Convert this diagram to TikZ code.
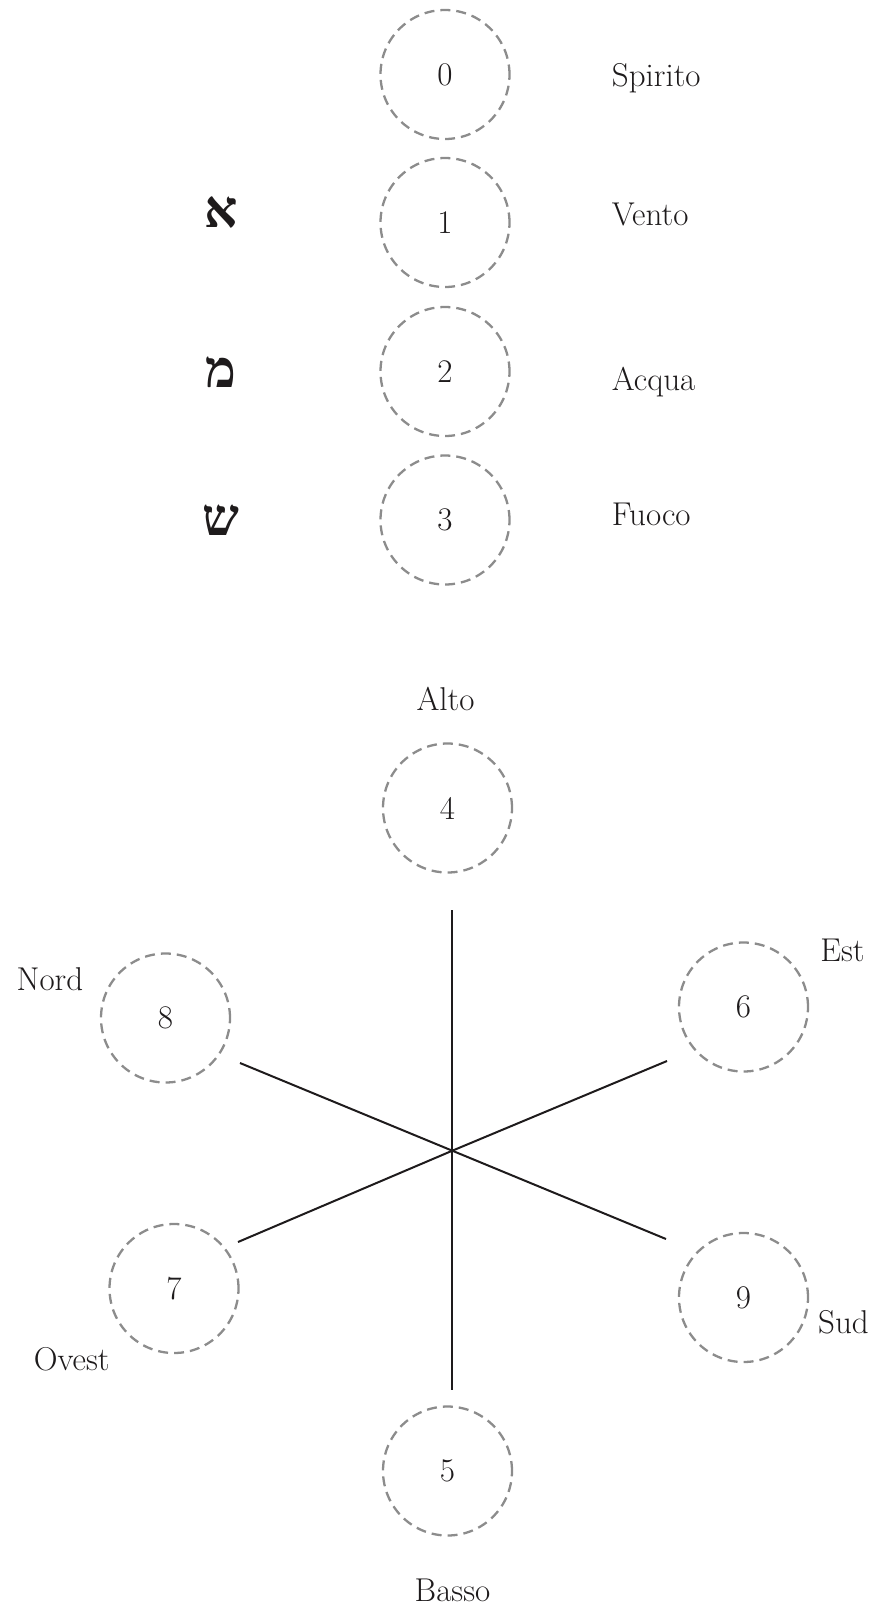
\documentclass[tikz,border=0pt]{standalone}
\usepackage{fontspec}
\newfontfamily\hebfont[Script=Hebrew]{Liberation Serif}
\TeXXeTstate=1
\begin{document}
\begin{tikzpicture}[x=1pt,y=-1pt,
  ring/.style={circle,draw=ringgray,line width=2.3pt,dash pattern=on 10pt off 6pt,
    minimum size=129pt,inner sep=0pt,font=\fontsize{33}{40}\selectfont,text=txt},
  lbl/.style={inner sep=0pt,font=\fontsize{33}{40}\selectfont,text=txt},
  heb/.style={inner sep=0pt,font=\hebfont\bfseries\fontsize{52}{60}\selectfont,text=txt},
  spoke/.style={draw=txt,line width=2pt}]
\definecolor{ringgray}{RGB}{140,140,140}
\definecolor{txt}{RGB}{30,27,28}
\useasboundingbox (0,0) rectangle (875,1609);
% top column
\node[ring] (n0) at (445,74.5) {0};
\node[ring] (n1) at (445,222.5) {1};
\node[ring] (n2) at (445,371.5) {2};
\node[ring] (n3) at (445,520) {3};
\node[lbl,anchor=base west] (spirito) at (611.7,86.7) {Spirito};
\node[lbl,anchor=base west] (vento) at (611.7,225) {Vento};
\node[lbl,anchor=base west] (acqua) at (611.7,390) {Acqua};
\node[lbl,anchor=base west] (fuoco) at (611.7,525) {Fuoco};
\node[heb] (aleph) at (221.5,212.5) {\beginR א\endR};
\node[heb] (mem) at (221,372.5) {\beginR מ\endR};
\node[heb] (shin) at (221,520.5) {\beginR ש\endR};
% star
\node[ring] (n4) at (447.5,808) {4};
\node[ring] (n5) at (447.5,1471) {5};
\node[ring] (n6) at (743.5,1007) {6};
\node[ring] (n9) at (743.5,1297.5) {9};
\node[ring] (n8) at (165.5,1018) {8};
\node[ring] (n7) at (174,1288.5) {7};
\node[lbl,anchor=base] (alto) at (445.5,710) {Alto};
\node[lbl,anchor=base] (basso) at (452.5,1601.7) {Basso};
\node[lbl,anchor=base] (nord) at (50,990) {Nord};
\node[lbl,anchor=base] (est) at (842.5,961.7) {Est};
\node[lbl,anchor=base] (sud) at (843.5,1333) {Sud};
\node[lbl,anchor=base] (ovest) at (71.7,1370) {Ovest};
\coordinate (c) at (452.3,1150.7);
\coordinate (eup) at (452.3,910);
\coordinate (edown) at (452.3,1390);
\coordinate (eur) at (667,1061);
\coordinate (elr) at (666,1239);
\coordinate (eul) at (240,1063);
\coordinate (ell) at (238,1242);
\draw[spoke] (c) -- (eup);
\draw[spoke] (c) -- (edown);
\draw[spoke] (c) -- (eur);
\draw[spoke] (c) -- (elr);
\draw[spoke] (c) -- (eul);
\draw[spoke] (c) -- (ell);
\end{tikzpicture}
\end{document}
